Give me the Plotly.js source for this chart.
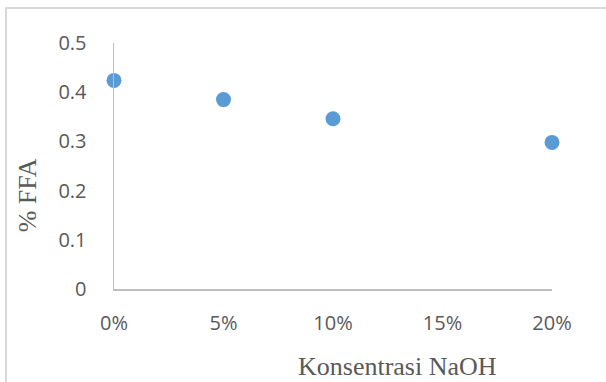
<!DOCTYPE html>
<html>
<head>
<meta charset="utf-8">
<script src="https://cdn.plot.ly/plotly-3.0.1.min.js"></script>
<style>
  html, body { margin: 0; padding: 0; background: #fff; overflow: hidden; }
  #chart { width: 606px; height: 382px; position: relative; }
  #frame { position: absolute; left: 5px; top: 7px; width: 700px; height: 500px;
           border: 2px solid #d9d9d9; pointer-events: none; box-sizing: border-box; }
</style>
</head>
<body>
<div id="chart"></div>
<div id="frame"></div>
<script>
const concentrations = [0, 5, 10, 20];
const ffaValues = [0.424, 0.385, 0.346, 0.298];
const xTickVals = [0, 5, 10, 15, 20];
const xTickText = ['0%', '5%', '10%', '15%', '20%'];
const yTickVals = [0, 0.1, 0.2, 0.3, 0.4, 0.5];
const yTickText = ['0', '0.1', '0.2', '0.3', '0.4', '0.5'];
const xTitle = 'Konsentrasi NaOH';
const yTitle = '% FFA';

const trace = {
  x: concentrations,
  y: ffaValues,
  type: 'scatter',
  mode: 'markers',
  marker: { color: '#5B9BD5', size: 15 },
  cliponaxis: false,
  hoverinfo: 'x+y'
};

const tickFont = { family: 'Open Sans, sans-serif', size: 20, color: '#595959' };
const titleFont = { family: 'Liberation Serif, Times New Roman, serif', size: 26, color: '#595959' };

const layout = {
  width: 606,
  height: 382,
  margin: { l: 114, r: 54, t: 43, b: 93 },
  paper_bgcolor: 'rgba(0,0,0,0)',
  plot_bgcolor: 'rgba(0,0,0,0)',
  showlegend: false,
  xaxis: {
    range: [0, 20],
    tickvals: xTickVals,
    ticktext: xTickText,
    showgrid: false,
    zeroline: false,
    showline: true,
    linecolor: '#BFBFBF',
    linewidth: 1.5,
    ticks: '',
    ticklabelstandoff: 15,
    tickfont: tickFont,
    fixedrange: true
  },
  yaxis: {
    range: [0, 0.5],
    tickvals: yTickVals,
    ticktext: yTickText,
    showgrid: false,
    zeroline: false,
    showline: true,
    linecolor: '#BFBFBF',
    linewidth: 1.5,
    ticks: '',
    ticklabelstandoff: 22,
    tickfont: tickFont,
    fixedrange: true
  },
  annotations: [
    {
      text: xTitle, xref: 'paper', yref: 'paper',
      x: (397 - 114) / 438, y: -(366 - 288.7) / 246,
      xanchor: 'center', yanchor: 'middle', showarrow: false,
      font: titleFont
    },
    {
      text: yTitle, xref: 'paper', yref: 'paper',
      x: (27 - 114) / 438, y: (288.7 - 195) / 246,
      xanchor: 'center', yanchor: 'middle', showarrow: false,
      textangle: -90, font: titleFont
    }
  ]
};

Plotly.newPlot('chart', [trace], layout, { displayModeBar: false, staticPlot: true });
</script>
</body>
</html>
